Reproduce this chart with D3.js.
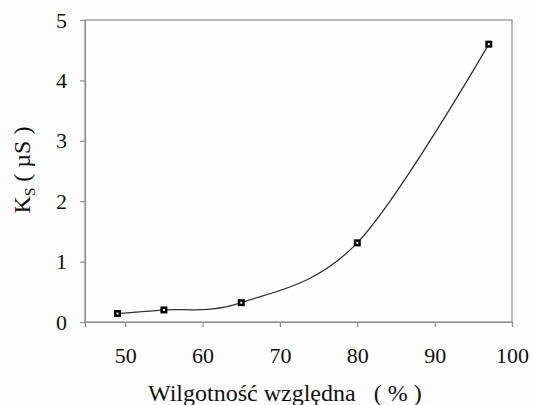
<!DOCTYPE html>
<html>
<head>
<meta charset="utf-8">
<script src="https://cdn.jsdelivr.net/npm/d3@7"></script>
</head>
<body style="margin:0">
<svg id="chart" width="534" height="405"></svg>
<script>
// Relative humidity (%) and surface conductance Ks (µS)
const humidity = [49, 55, 65, 80, 97];
const conductance = [0.14, 0.2, 0.32, 1.31, 4.6];
const xTicks = [50, 60, 70, 80, 90, 100];
const yTicks = [0, 1, 2, 3, 4, 5];

(function () {
  const svg = d3.select("#chart");
  const plotLeft = 85, plotRight = 512, plotTop = 20, plotBottom = 322;

  const x = d3.scaleLinear().domain([44.8, 100]).range([plotLeft, plotRight]);
  const y = d3.scaleLinear().domain([0, 5]).range([plotBottom, plotTop]);

  const axisColor = "#8f8f8f";

  // page background
  svg.append("rect").attr("width", 534).attr("height", 405).attr("fill", "#fdfdfd");

  // plot frame
  svg.append("rect")
    .attr("x", plotLeft).attr("y", plotTop)
    .attr("width", plotRight - plotLeft).attr("height", plotBottom - plotTop)
    .attr("fill", "#fefefe")
    .attr("stroke", axisColor).attr("stroke-width", 1.2);

  // y axis
  const yAxis = svg.append("g")
    .attr("transform", `translate(${plotLeft},0)`)
    .call(d3.axisLeft(y).tickValues(yTicks).tickSize(5).tickPadding(13).tickFormat(d3.format("d")));
  // x axis
  const xAxis = svg.append("g")
    .attr("transform", `translate(0,${plotBottom})`)
    .call(d3.axisBottom(x).tickValues(xTicks).tickSize(5).tickPadding(20).tickFormat(d3.format("d")));

  [yAxis, xAxis].forEach(g => {
    g.attr("font-family", null).attr("font-size", null);
    g.select(".domain").attr("stroke", axisColor).attr("stroke-width", 1.2);
    g.selectAll(".tick line").attr("stroke", axisColor).attr("stroke-width", 1.2);
    g.selectAll(".tick text")
      .style("font-family", () => `"Times New Roman"`)
      .style("font-size", () => "22px")
      .attr("fill", "#111");
  });

  // smoothed curve through the measurements
  const pts = humidity.map((h, i) => [h, conductance[i]]);
  const line = d3.line()
    .x(d => x(d[0])).y(d => y(d[1]))
    .curve(d3.curveCatmullRom.alpha(0));

  svg.append("path")
    .datum(pts)
    .attr("d", line)
    .attr("fill", "none")
    .attr("stroke", "#333")
    .attr("stroke-width", 1.3);

  // square markers
  svg.append("g").selectAll("rect")
    .data(pts)
    .join("rect")
    .attr("x", d => x(d[0]) - 2.25)
    .attr("y", d => y(d[1]) - 2.25)
    .attr("width", 4.5).attr("height", 4.5)
    .attr("fill", "#fff")
    .attr("stroke", "#000")
    .attr("stroke-width", 2.5);

  // axis titles
  svg.selectAll("text.xtitle")
    .data(["Wilgotność względna\u00a0\u00a0\u00a0( % )"])
    .join("text")
    .attr("class", "xtitle")
    .attr("x", 148).attr("y", 401)
    .style("font-family", () => `"Times New Roman"`)
    .style("font-size", () => "24px")
    .attr("fill", "#111")
    .text(d => d);

  const yt = svg.selectAll("text.ytitle")
    .data([0])
    .join("text")
    .attr("class", "ytitle")
    .attr("transform", "translate(30,170) rotate(-90)")
    .attr("text-anchor", "middle")
    .style("font-family", () => `"Times New Roman"`)
    .style("font-size", () => "24px")
    .attr("fill", "#111");
  yt.append("tspan").text("K");
  yt.append("tspan").attr("dy", 5).style("font-size", "15px").text("S");
  yt.append("tspan").attr("dy", -5).text("\u00a0( µS )");
})();
</script>
</body>
</html>
